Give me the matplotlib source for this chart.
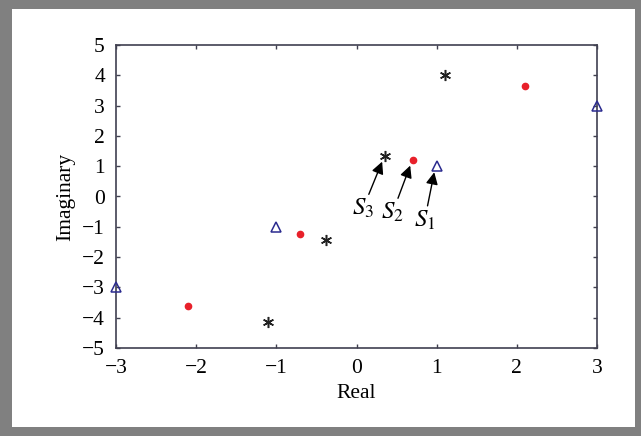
import matplotlib
matplotlib.use('Agg')
import matplotlib.pyplot as plt
from matplotlib.patches import Rectangle

# poles of the three systems
s1_re = [1, -1, 3, -3]
s1_im = [1, -1, 3, -3]
s2_re = [0.7, -0.7, 2.1, -2.1]
s2_im = [1.22, -1.25, 3.65, -3.62]
s3_re = [0.35, -0.38, 1.1, -1.1]
s3_im = [1.35, -1.42, 4.0, -4.15]

labels = ['$S_1$', '$S_2$', '$S_3$']
label_pos = [(0.85, -0.4), (0.45, -0.15), (0.08, -0.02)]

plt.rcParams['font.family'] = ['Liberation Serif', 'DejaVu Serif']
plt.rcParams['mathtext.fontset'] = 'stix'

fig = plt.figure(figsize=(6.41, 4.36), dpi=100)
# gray frame around the whole picture
fig.patches.append(Rectangle((0, 0), 1, 1, transform=fig.transFigure,
                             facecolor='#808080', edgecolor='none', zorder=-2))
fig.patches.append(Rectangle((12 / 641, 9 / 436), (635 - 12) / 641, (427 - 9) / 436,
                             transform=fig.transFigure, facecolor='white',
                             edgecolor='none', zorder=-1))

ax = fig.add_axes([116 / 641, 1 - 348 / 436, (597 - 116) / 641, (348 - 45) / 436])
ax.set_facecolor('none')

ax.plot(s1_re, s1_im, '^', mfc='none', mec='#2b2b8f', ms=7.5, mew=1.1, clip_on=False, zorder=3)
ax.plot(s2_re, s2_im, 'o', color='#e8202a', ms=4.5, zorder=3)
ax.plot(s3_re, s3_im, marker=(6, 2, 0), ls='none', color='#222222', ms=8, mew=1.1, zorder=3)

s1_tip = (s1_re[0], s1_im[0])
s2_tip = (s2_re[0], s2_im[0])
s3_tip = (s3_re[0], s3_im[0])
for lab, pos, tip in zip(labels, label_pos, [s1_tip, s2_tip, s3_tip]):
    ax.annotate(lab, xy=(tip[0] - 0.03, tip[1] - 0.2), xytext=pos, fontsize=18,
                ha='center', va='top',
                arrowprops=dict(arrowstyle='-|>', color='black', lw=1.0,
                                mutation_scale=18, shrinkA=0, shrinkB=0))

ax.set_xlim(-3, 3)
ax.set_ylim(-5, 5)
ax.set_xticks(range(-3, 4))
ax.set_yticks(range(-5, 6))
ax.tick_params(direction='in', length=3, width=1, color='#404050',
               labelsize=15.5, pad=8, top=True, right=True)
for sp in ax.spines.values():
    sp.set_color('#404050')
    sp.set_linewidth(1.2)

ax.set_xlabel('Real', fontsize=15.5, labelpad=4)
ax.set_ylabel('Imaginary', fontsize=15.5, labelpad=5)

fig.savefig('out.png', dpi=100)
